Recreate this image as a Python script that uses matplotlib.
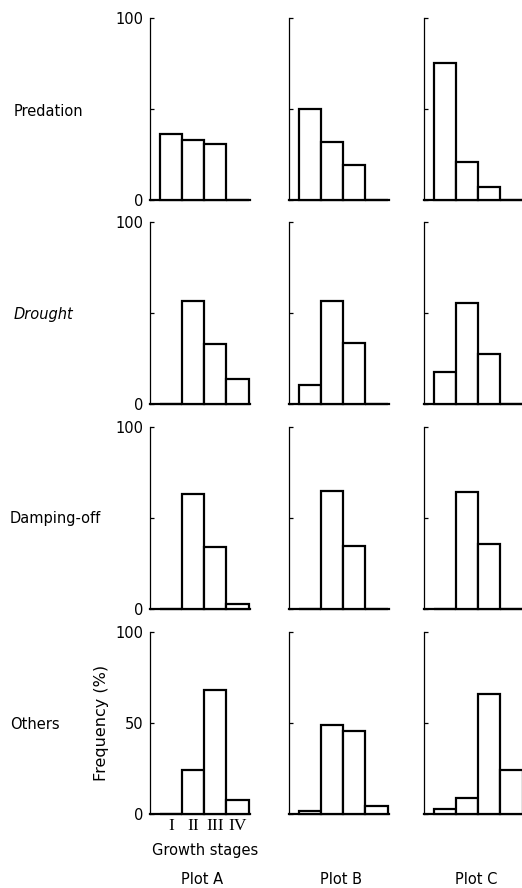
import matplotlib.pyplot as plt

# frequency (%) of seedling deaths by growth stage, one list per plot (A, B, C)
stages = ['I', 'II', 'III', 'IV']
plots = ['Plot A', 'Plot B', 'Plot C']
causes = ['Predation', 'Drought', 'Damping-off', 'Others']

predation = [[36, 33, 30.5, 0], [50, 32, 19, 0], [75.5, 21, 7, 0]]
drought = [[0, 56.5, 33, 13.5], [10.5, 56.5, 33.5, 0], [17.5, 55.5, 27.5, 0]]
damping_off = [[0, 63, 34, 3], [0, 65, 34.5, 0], [0, 64.5, 35.5, 0]]
others = [[0, 24, 68, 7.5], [1.5, 49, 45.5, 4.5], [3, 9, 66, 24]]

rows = [predation, drought, damping_off, others]

W, H = 522, 888
fig = plt.figure(figsize=(W / 100, H / 100), dpi=100)
plt.rcParams['font.family'] = 'DejaVu Sans'

col_left = [150, 289, 424]
row_bottom = [200, 404, 609, 814]
ax_w, ax_h = 100, 182
label_y = [112, 315, 519, 724]
label_x = [14, 14, 10, 10]

xs = [1, 2, 3, 4]
for r, data in enumerate(rows):
    for c in range(3):
        ax = fig.add_axes([col_left[c] / W, 1 - row_bottom[r] / H, ax_w / W, ax_h / H])
        ax.bar(xs, data[c], width=1.0, color='white', edgecolor='black',
               linewidth=1.6, clip_on=False, zorder=3)
        ax.set_xlim(0.06, 4.56)
        ax.set_ylim(0, 100)
        ax.spines['top'].set_visible(False)
        ax.spines['right'].set_visible(False)
        ax.spines['left'].set_linewidth(0.9)
        ax.spines['bottom'].set_linewidth(1.6)
        ax.set_yticks([0, 50, 100])
        ax.tick_params(axis='y', direction='in', length=3, width=0.9,
                       pad=5, labelsize=10.5)
        if c == 0:
            if r == 3:
                ax.set_yticklabels(['0', '50', '100'])
            else:
                ax.set_yticklabels(['0', '', '100'])
        else:
            ax.set_yticklabels([])

        if r == 3 and c == 0:
            ax.set_xticks(xs)
            ax.set_xticklabels(stages, family='Liberation Serif', fontsize=12.5)
            ax.tick_params(axis='x', length=0, pad=3)
            ax.set_ylabel('Frequency (%)', fontsize=11.5, labelpad=4)
            ax.text(0.55, -0.2, 'Growth stages', transform=ax.transAxes,
                    ha='center', va='center', fontsize=10.5)
        else:
            ax.set_xticks([])

        if r == 3:
            fig.text((col_left[c] + ax_w / 2 + 2) / W, 1 - 879 / H, plots[c],
                     ha='center', va='center', fontsize=10.5)

    fig.text(label_x[r] / W, 1 - label_y[r] / H, causes[r], ha='left', va='center',
             fontsize=10.5, style='italic' if causes[r] == 'Drought' else 'normal')

fig.savefig('out.png', dpi=100)
